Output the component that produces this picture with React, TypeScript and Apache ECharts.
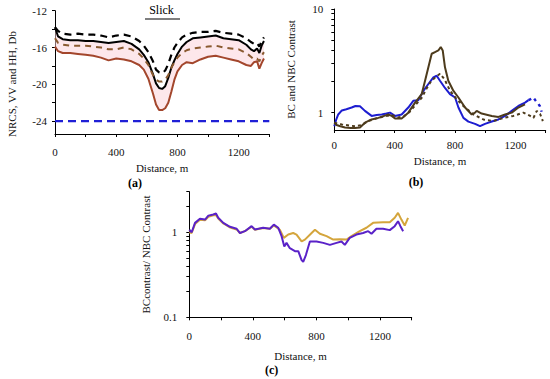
import React, { useEffect, useRef } from "react";
import * as echarts from "echarts";

// ---------- Panel (a): NRCS, dB ----------
const aDist = [0, 20, 50, 100, 150, 200, 250, 300, 350, 400, 450, 500, 550, 580, 610, 640, 660, 680, 700, 720, 740, 760, 780, 800, 830, 860, 900, 950, 1000, 1050, 1100, 1150, 1200, 1250, 1280, 1300, 1320, 1335, 1350, 1365];
const aBlackSolid = [-13.8, -14.8, -15.1, -15.2, -15.2, -15.3, -15.3, -15.4, -15.5, -15.4, -15.3, -15.6, -16.2, -16.8, -17.6, -18.9, -19.9, -20.4, -20.5, -20.2, -19.3, -18.2, -17.4, -16.7, -15.9, -15.4, -15.0, -14.9, -14.8, -14.7, -15.0, -15.1, -15.2, -15.7, -16.2, -16.4, -16.1, -16.6, -15.8, -15.3];
const aBlackDashed = [-13.8, -14.2, -14.5, -14.6, -14.5, -14.6, -14.6, -14.7, -14.9, -14.7, -14.6, -14.8, -15.3, -15.8, -16.5, -17.5, -18.4, -18.7, -18.8, -18.5, -17.8, -16.8, -16.0, -15.5, -14.9, -14.6, -14.4, -14.3, -14.3, -14.2, -14.4, -14.5, -14.6, -15.0, -15.4, -15.6, -15.5, -15.9, -15.3, -14.9];
const aBrownDashed = [-15.0, -15.5, -15.7, -15.8, -15.8, -15.8, -15.9, -16.0, -16.2, -16.2, -16.0, -16.2, -16.7, -17.2, -17.9, -19.0, -19.5, -19.7, -19.7, -19.5, -19.0, -18.2, -17.6, -17.1, -16.6, -16.3, -16.1, -16.0, -15.9, -15.8, -16.0, -16.1, -16.2, -16.6, -17.0, -17.3, -17.2, -17.5, -16.9, -16.5];
const aBrownSolid = [-15.9, -16.4, -16.6, -16.6, -16.7, -16.8, -16.9, -17.1, -17.4, -17.2, -17.3, -17.5, -17.9, -18.4, -19.4, -21.0, -22.2, -22.8, -22.8, -22.6, -22.0, -20.8, -19.5, -18.6, -17.9, -17.6, -17.7, -17.3, -17.0, -16.9, -17.1, -17.3, -17.5, -17.9, -18.0, -17.6, -17.5, -18.3, -17.7, -17.2];
const aNoiseDist = [0, 1400];
const aNoise = [-24, -24];
const aYTicks = [-12, -14, -16, -18, -20, -22, -24];
const aYLabels = [-12, -16, -20, -24];

// ---------- Panel (b): BC and NBC contrast ----------
const bBlueDist = [0, 12, 26, 50, 80, 115, 140, 170, 203, 247, 280, 314, 345, 369, 402, 446, 490, 523, 557, 590, 623, 656, 678, 700, 733, 766, 800, 822, 855, 888, 932, 965, 998, 1043, 1087, 1131, 1175, 1219, 1263, 1286];
const bBlue = [0.74, 0.85, 0.96, 1.05, 1.08, 1.12, 1.16, 1.15, 1.04, 0.93, 0.95, 0.96, 0.98, 1.0, 0.93, 0.96, 1.12, 1.3, 1.32, 1.62, 1.89, 2.19, 2.27, 2.03, 1.73, 1.51, 1.4, 1.12, 0.89, 0.82, 0.78, 0.74, 0.78, 0.82, 0.86, 0.93, 1.04, 1.16, 1.25, 1.32];
const bBlueDashDist = [1286, 1300, 1319, 1334, 1350, 1361, 1373];
const bBlueDash = [1.32, 1.35, 1.4, 1.3, 1.22, 1.16, 1.02];
const bBrownDist = [0, 15, 40, 71, 110, 137, 170, 203, 247, 292, 330, 358, 380, 402, 446, 490, 535, 579, 601, 623, 645, 667, 689, 705, 718, 733, 755, 789, 822, 866, 910, 932, 943, 976, 1043, 1087, 1131, 1175, 1219, 1263];
const bBrown = [0.8, 0.76, 0.74, 0.72, 0.71, 0.71, 0.72, 0.8, 0.86, 0.89, 0.93, 0.96, 0.93, 0.88, 0.88, 1.0, 1.25, 1.51, 2.03, 2.74, 3.7, 3.84, 3.98, 4.3, 3.98, 2.74, 2.03, 1.62, 1.4, 1.12, 0.96, 1.0, 1.04, 0.98, 0.93, 0.91, 0.96, 1.0, 1.12, 1.2];
const bBrownDotDist = [0, 49, 100, 137, 181, 225, 280, 330, 380, 420, 460, 500, 540, 580, 610, 640, 670, 700, 730, 766, 810, 855, 921, 987, 1054, 1120, 1186, 1252, 1297, 1319, 1341, 1363, 1381];
const bBrownDot = [0.8, 0.77, 0.75, 0.74, 0.76, 0.83, 0.88, 0.92, 0.95, 0.9, 0.92, 1.02, 1.2, 1.4, 1.7, 2.0, 2.2, 2.37, 2.1, 1.63, 1.35, 1.16, 0.96, 0.86, 0.83, 0.89, 0.93, 1.0, 0.93, 0.89, 1.04, 0.97, 0.83];
const bYTicks = [1, 2, 3, 4, 5, 6, 7, 8, 9, 10];
const bYLabels = [1, 10];

// ---------- Panel (c): ratio ----------
const cPurpleDist = [0, 15, 36, 67, 99, 120, 151, 168, 182, 214, 256, 298, 319, 350, 392, 413, 465, 507, 532, 560, 581, 598, 612, 633, 665, 686, 707, 717, 734, 759, 801, 843, 885, 927, 958, 979, 1010, 1052, 1094, 1126, 1147, 1178, 1220, 1262, 1293, 1314, 1329, 1346];
const cPurple = [1.07, 1.0, 1.29, 1.44, 1.41, 1.57, 1.62, 1.66, 1.48, 1.29, 1.16, 1.1, 0.98, 1.03, 1.18, 1.08, 1.13, 1.1, 1.23, 1.13, 0.9, 0.68, 0.75, 0.65, 0.6, 0.6, 0.47, 0.45, 0.54, 0.78, 0.78, 0.75, 0.71, 0.75, 0.78, 0.71, 0.86, 0.94, 0.98, 1.03, 0.96, 1.1, 1.1, 1.06, 1.18, 1.35, 1.18, 1.03];
const cGoldDist = [0, 15, 36, 67, 99, 120, 151, 168, 182, 214, 256, 298, 319, 350, 392, 413, 465, 507, 532, 570, 595, 623, 654, 675, 707, 728, 770, 791, 822, 864, 906, 948, 990, 1021, 1073, 1115, 1157, 1220, 1262, 1293, 1314, 1335, 1356, 1377];
const cGold = [1.0, 0.98, 1.25, 1.4, 1.38, 1.52, 1.58, 1.6, 1.45, 1.27, 1.14, 1.08, 0.98, 1.03, 1.16, 1.07, 1.12, 1.1, 1.2, 1.07, 0.86, 0.94, 0.98, 0.94, 0.78, 0.82, 0.98, 1.07, 0.96, 0.9, 0.82, 0.83, 0.82, 0.9, 1.03, 1.13, 1.29, 1.31, 1.31, 1.48, 1.69, 1.41, 1.2, 1.48];
const cYTicks = [0.1, 0.2, 0.3, 0.4, 0.5, 0.6, 0.7, 0.8, 0.9, 1, 2, 3];
const cYLabels = [0.1, 1];

const FONT = "Liberation Serif";
const pairs = (xs: number[], ys: number[]) => xs.map((x, i) => [x, ys[i]]);
const txt = { fontFamily: FONT, fontSize: 11, color: "#111", fontWeight: "normal" as const };

function xAxisCfg(gridIndex: number, labelMargin: number, nameGap: number) {
  return {
    type: "value",
    gridIndex,
    min: 0,
    max: 1400,
    interval: 200,
    name: "Distance, m",
    nameLocation: "middle",
    nameGap,
    nameTextStyle: { ...txt },
    axisLine: { show: true, lineStyle: { color: "#000", width: 1 } },
    axisTick: { show: true, length: 3, lineStyle: { color: "#000" } },
    axisLabel: {
      ...txt,
      margin: labelMargin,
      formatter: (v: number) => (v % 400 === 0 ? String(v) : ""),
    },
    splitLine: { show: false },
  };
}

export default function App() {
  const ref = useRef<HTMLDivElement>(null);

  useEffect(() => {
    if (!ref.current) return;
    const chart = echarts.init(ref.current, undefined, { renderer: "svg" });

    const line = (
      name: string,
      xi: number,
      data: number[][],
      color: string,
      width: number,
      type: any = "solid"
    ) => ({
      name,
      type: "line",
      xAxisIndex: xi,
      yAxisIndex: xi,
      data,
      showSymbol: false,
      symbol: "none",
      lineStyle: { color, width, type },
      itemStyle: { color },
      z: 3,
    });

    const bandData = aDist.map((d, i) => [d, aBrownSolid[i], aBlackSolid[i]]);

    const option: any = {
      animation: false,
      backgroundColor: "#fff",
      textStyle: { fontFamily: FONT },
      grid: [
        { left: 55, top: 10.7, width: 214.3, height: 123.3 },
        { left: 334.3, top: 9, width: 211.4, height: 121 },
        { left: 189.3, top: 191.7, width: 222.4, height: 125.6 },
      ],
      xAxis: [xAxisCfg(0, 12, 28), xAxisCfg(1, 9, 25), xAxisCfg(2, 13, 33)],
      yAxis: [
        {
          type: "value",
          gridIndex: 0,
          min: -25.4,
          max: -12,
          axisLine: { show: true, lineStyle: { color: "#000", width: 1 } },
          axisTick: { show: true, length: 3, customValues: aYTicks, lineStyle: { color: "#000" } },
          axisLabel: { ...txt, margin: 8, customValues: aYLabels },
          splitLine: { show: false },
        },
        {
          type: "log",
          gridIndex: 1,
          min: 0.68,
          max: 10,
          name: "BC and NBC Contrast",
          nameLocation: "middle",
          nameGap: 38,
          nameTextStyle: { ...txt },
          axisLine: { show: true, lineStyle: { color: "#000", width: 1 } },
          axisTick: { show: true, length: 3, customValues: bYTicks, lineStyle: { color: "#000" } },
          axisLabel: { ...txt, margin: 11, customValues: bYLabels },
          splitLine: { show: false },
        },
        {
          type: "log",
          gridIndex: 2,
          min: 0.1,
          max: 3,
          name: "BCcontrast/ NBC Contrast",
          nameLocation: "middle",
          nameGap: 38,
          nameTextStyle: { ...txt },
          axisLine: { show: true, lineStyle: { color: "#000", width: 1 } },
          axisTick: { show: true, length: 3, customValues: cYTicks, lineStyle: { color: "#000" } },
          axisLabel: { ...txt, margin: 12, customValues: cYLabels },
          splitLine: { show: false },
        },
      ],
      series: [
        {
          name: "band",
          type: "custom",
          xAxisIndex: 0,
          yAxisIndex: 0,
          data: bandData,
          z: 1,
          silent: true,
          renderItem: (params: any, api: any) => {
            if (params.dataIndex !== 0) return null;
            const top = bandData.map((p) => api.coord([p[0], p[2]]));
            const bot = bandData.map((p) => api.coord([p[0], p[1]])).reverse();
            return {
              type: "polygon",
              shape: { points: top.concat(bot) },
              style: { fill: "rgba(251,208,216,0.5)", stroke: "none" },
            };
          },
        },
        line("VV dashed", 0, pairs(aDist, aBlackDashed), "#000", 2.2, [7, 5]),
        line("VV", 0, pairs(aDist, aBlackSolid), "#000", 2),
        line("HH dashed", 0, pairs(aDist, aBrownDashed), "#8a5a30", 2, [6, 5]),
        line("HH", 0, pairs(aDist, aBrownSolid), "#a3462c", 2),
        line("noise", 0, pairs(aNoiseDist, aNoise), "#1f1fd6", 2.4, [8, 5]),

        line("NBC", 1, pairs(bBlueDist, bBlue), "#1d1dd0", 2),
        line("NBC dashed", 1, pairs(bBlueDashDist, bBlueDash), "#1d1dd0", 2.4, [3, 4]),
        line("BC dotted", 1, pairs(bBrownDotDist, bBrownDot), "#4d3b1c", 2, [3, 3]),
        line("BC", 1, pairs(bBrownDist, bBrown), "#4d3b1c", 2),

        line("ratio gold", 2, pairs(cGoldDist, cGold), "#d4a53c", 2),
        line("ratio purple", 2, pairs(cPurpleDist, cPurple), "#5a22c8", 2),
      ],
      graphic: [
        { type: "text", x: 12, y: 84, rotation: Math.PI / 2, style: { text: "NRCS, VV and HH, Db", font: "11px 'Liberation Serif'", fill: "#111", align: "center", verticalAlign: "middle" } },
        { type: "text", x: 161.5, y: 9.5, style: { text: "Slick", font: "12px 'Liberation Serif'", fill: "#000", align: "center", verticalAlign: "middle" } },
        { type: "line", shape: { x1: 145, y1: 19, x2: 180, y2: 19 }, style: { stroke: "#000", lineWidth: 1.2 } },
        { type: "text", x: 135, y: 182.7, style: { text: "(a)", font: "bold 12px 'Liberation Serif'", fill: "#000", align: "center", verticalAlign: "middle" } },
        { type: "text", x: 416, y: 181.7, style: { text: "(b)", font: "bold 12px 'Liberation Serif'", fill: "#000", align: "center", verticalAlign: "middle" } },
        { type: "text", x: 271.7, y: 370, style: { text: "(c)", font: "bold 12px 'Liberation Serif'", fill: "#000", align: "center", verticalAlign: "middle" } },
      ],
    };

    chart.setOption(option);
    return () => chart.dispose();
  }, []);

  return (
    <div
      ref={ref}
      style={{ position: "absolute", left: 0, top: 0, width: 550, height: 379, background: "#fff" }}
    />
  );
}
